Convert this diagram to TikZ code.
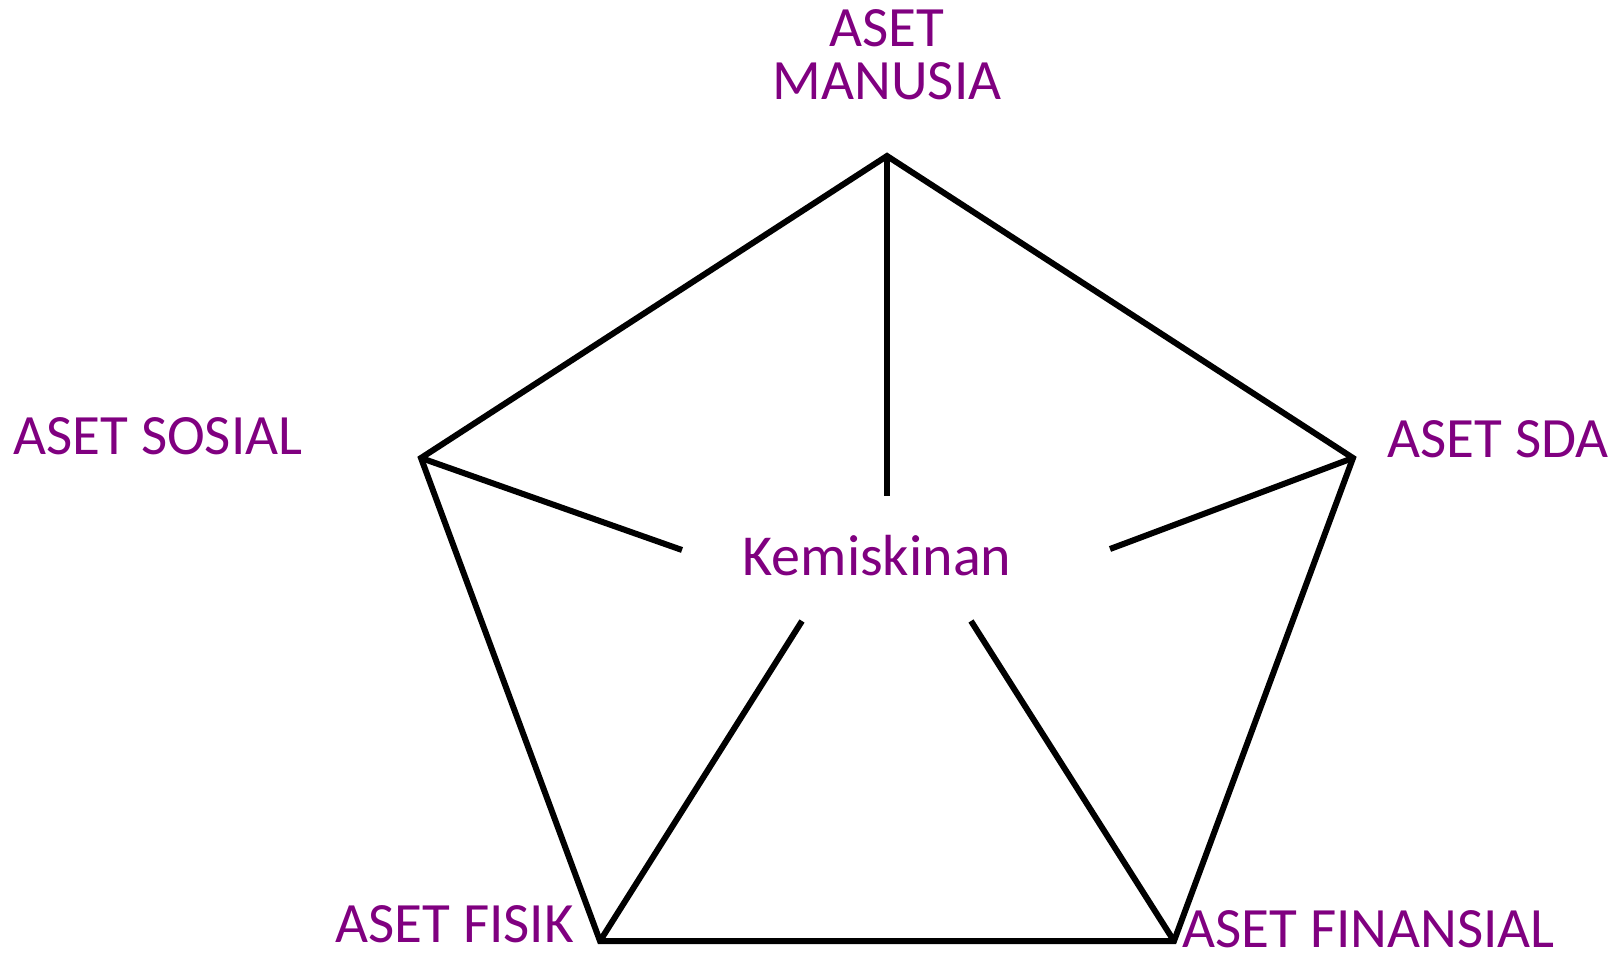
\documentclass[tikz,border=0pt]{standalone}
\usepackage{fontspec}
\setmainfont{Carlito}
\usetikzlibrary{calc,positioning}
\definecolor{asetPurple}{RGB}{128,0,128}

\begin{document}
\begin{tikzpicture}[x=0.5pt,y=-0.5pt,
  side/.style={black, line width=3pt, line join=miter},
  lbl/.style={text=asetPurple, font=\fontsize{28.5}{26.5}\selectfont, inner sep=0pt},
  core/.style={text=asetPurple, font=\fontsize{29}{31}\selectfont, inner sep=0pt}]
\useasboundingbox (0,0) rectangle (1618,953);

% corners of the pentagon
\coordinate (top) at (887,156);
\coordinate (left) at (421,458);
\coordinate (right) at (1353,458);
\coordinate (botL) at (600,941);
\coordinate (botR) at (1174,941);

% inner ends of the spokes
\coordinate (inTop) at (887,496);
\coordinate (inLeft) at (682,550);
\coordinate (inRight) at (1110,549);
\coordinate (inBotL) at (802,621);
\coordinate (inBotR) at (971,621);

\draw[side] (top)--(right)--(botR)--(botL)--(left)--cycle;
\draw[side] (top)--(inTop);
\draw[side] (left)--(inLeft);
\draw[side] (right)--(inRight);
\draw[side] (botL)--(inBotL);
\draw[side] (botR)--(inBotR);

\node[core, anchor=base] (poor) at (877,575) {Kemiskinan};

\node[lbl, anchor=base, align=center] (manusia) at (887,99) {ASET\\MANUSIA};
\node[lbl, anchor=base west] (sosial) at (13,454) {ASET SOSIAL};
\node[lbl, anchor=base west] (sda) at (1387,457) {ASET SDA};
\node[lbl, anchor=base west] (fisik) at (335,942) {ASET FISIK};
\node[lbl, anchor=base west] (finansial) at (1182,947) {ASET FINANSIAL};
\end{tikzpicture}
\end{document}
